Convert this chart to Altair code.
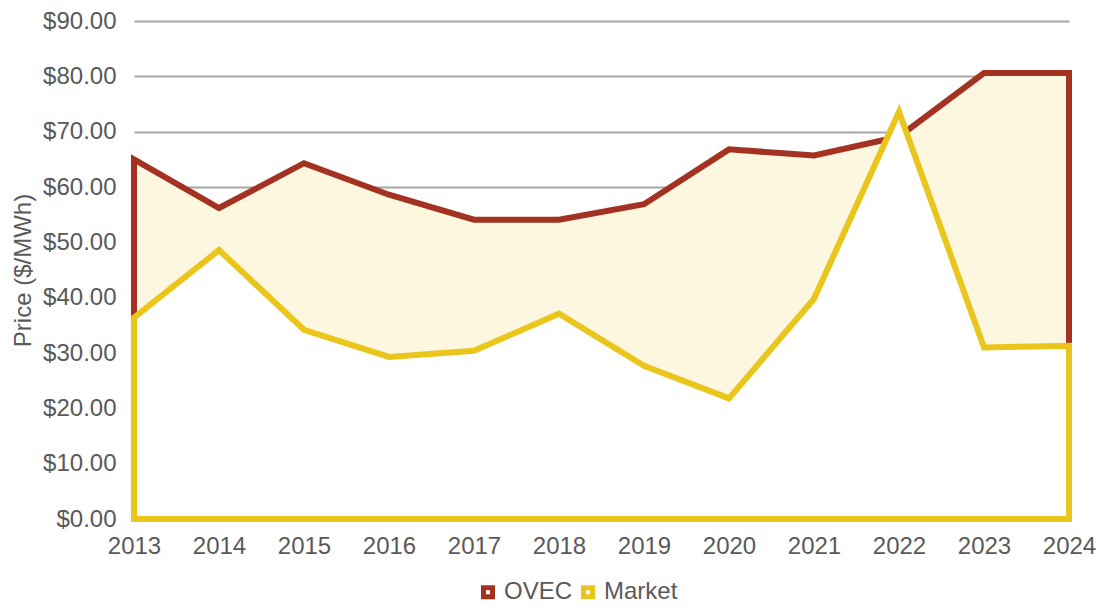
import altair as alt
import pandas as pd

years = [2013, 2014, 2015, 2016, 2017, 2018, 2019, 2020, 2021, 2022, 2023, 2024]
ovec = [65.0, 56.2, 64.3, 58.6, 54.1, 54.1, 56.9, 66.8, 65.7, 69.1, 80.6, 80.6]
market = [36.4, 48.6, 34.2, 29.3, 30.4, 37.1, 27.7, 21.8, 39.8, 73.6, 31.0, 31.3]
series_names = ["OVEC", "Market"]
line_colors = ["#A33222", "#EAC51B"]
ovec_fill = "#FEF7DF"
y_ticks = [0, 10, 20, 30, 40, 50, 60, 70, 80, 90]

rows = []
for name, vals in zip(series_names, [ovec, market]):
    for yr, v in zip(years, vals):
        rows.append({"year": yr, "value": v, "series": name})
df = pd.DataFrame(rows)

FONT = "Liberation Sans"
TXT = "#595959"
FS = 24

x_enc = alt.X(
    "year:Q",
    scale=alt.Scale(domain=[years[0], years[-1]], nice=False, zero=False),
    axis=alt.Axis(values=years, format="d", title=None, grid=False, domain=False,
                  ticks=False, labelPadding=15, labelFlush=False, labelOverlap=False,
                  labelFontSize=FS, labelColor=TXT, labelFont=FONT),
)
y_enc = alt.Y(
    "value:Q",
    stack=None,
    scale=alt.Scale(domain=[0, 90], nice=False),
    axis=alt.Axis(values=y_ticks, format="$.2f", title="Price ($/MWh)", domain=False,
                  ticks=False, labelPadding=18, gridColor="#A6A6A6", gridWidth=2,
                  labelFontSize=FS, labelColor=TXT, labelFont=FONT,
                  titleFontSize=FS, titleColor=TXT, titleFont=FONT,
                  titleFontWeight="normal", titlePadding=7),
)

base = alt.Chart(df).encode(x=x_enc, y=y_enc)

ovec_area = base.transform_filter(alt.datum.series == "OVEC").mark_area(
    fill=ovec_fill, stroke=line_colors[0], strokeWidth=6, strokeJoin="miter"
)
market_area = base.transform_filter(alt.datum.series == "Market").mark_area(
    fill="white", stroke=line_colors[1], strokeWidth=6, strokeJoin="miter"
)

legend_layer = base.transform_filter("false").mark_square(
    fill="white", strokeWidth=5, size=81, opacity=1
).encode(
    stroke=alt.Stroke(
        "series:N",
        scale=alt.Scale(domain=series_names, range=line_colors),
        legend=alt.Legend(title=None, orient="none", legendX=342, legendY=559,
                          direction="horizontal", symbolType="square",
                          symbolSize=81, symbolStrokeWidth=5,
                          symbolFillColor="white",
                          labelFontSize=FS, labelColor=TXT, labelFont=FONT,
                          labelOffset=4, columnPadding=0, padding=0),
    )
)

chart = (
    alt.layer(ovec_area, market_area, legend_layer)
    .properties(
        width=935,
        height=498,
        autosize=alt.AutoSizeParams(type="none"),
        padding={"left": 126, "top": 13, "right": 29, "bottom": 85},
    )
    .configure(font=FONT)
    .configure_view(strokeWidth=0, stroke="transparent", fill="white")
    .configure_axisX(grid=False, domain=False, ticks=False)
)

chart.save("out.html", embed_options={"renderer": "svg", "actions": False})
